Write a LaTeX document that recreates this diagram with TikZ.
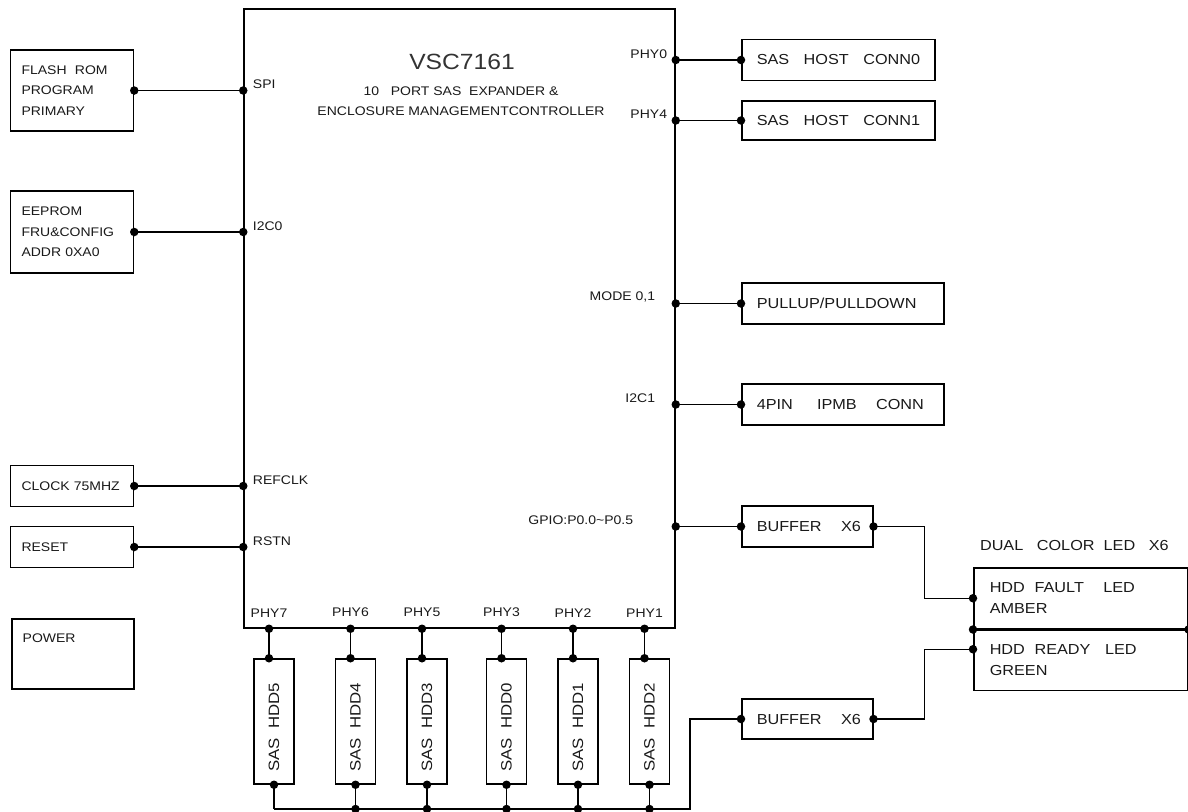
\documentclass[tikz,border=0pt]{standalone}
\usepackage{fontspec}
\setmainfont{Liberation Sans}[FakeStretch=1.12]
\usetikzlibrary{positioning,calc}

\newcommand{\pinfont}{\fontsize{12.5}{20.5}\selectfont}
\newcommand{\boxfont}{\fontsize{14.5}{21}\selectfont}
\newcommand{\chipfont}{\fontsize{22}{24}\selectfont}

\begin{document}
\begin{tikzpicture}[
  x=1pt, y=-1pt,
  font=\pinfont,
  text=black!90,
  line width=1.4pt,
  box/.style={draw, line width=1.5pt, inner sep=0pt},
  lbox/.style={box, text width=#1, inner xsep=11pt, align=left},
  rbox/.style={box, font=\boxfont, text width=#1, inner xsep=15pt, align=left,
    minimum height=41, anchor=west},
  jdot/.style={circle, fill=black, inner sep=0pt, minimum size=8.5pt},
  pinl/.style={anchor=south west, inner sep=0pt, xshift=9pt, yshift=1pt},
  pinr/.style={anchor=south east, inner sep=0pt, yshift=1pt},
]
  \useasboundingbox (0,0) rectangle (1188,811);

  % Expander chip
  \node[box, minimum width=431, minimum height=619] (chip) at (459.5,318.5) {};
  \node[font=\chipfont, text=black!80] (title) at (462,62) {VSC7161};
  \node[align=center, font=\fontsize{12.5}{20}\selectfont] (subtitle) at (461,101)
    {10~~~PORT~SAS~~EXPANDER~\&\\ENCLOSURE MANAGEMENTCONTROLLER};

  % Left side blocks
  \node[lbox=101pt, minimum height=81] (flash) at (72,90.5) {FLASH~~ROM\\PROGRAM\\PRIMARY};
  \node[lbox=101pt, minimum height=82] (eeprom) at (72,232) {EEPROM\\FRU\&CONFIG\\ADDR~0XA0};
  \node[lbox=101pt, minimum height=41] (clock) at (72,486) {CLOCK~75MHZ};
  \node[lbox=101pt, minimum height=41] (reset) at (72,547) {RESET};
  \node[box, minimum width=122, minimum height=70, anchor=north west] (power) at (11,618) {};
  \node[anchor=west, inner sep=0pt, xshift=11pt, yshift=-20pt] at (power.north west) {POWER};

  \foreach \n/\lbl in {flash/SPI, eeprom/I2C0, clock/REFCLK, reset/RSTN} {
    \draw (\n.east) node[jdot]{} -- (\n.east -| chip.west) node[jdot]{} node[pinl]{\lbl};
  }

  % Right side blocks
  \node[rbox=163pt] (conn0) at (741,60) {SAS~~~HOST~~~CONN0};
  \node[rbox=163pt, minimum height=39] (conn1) at (741,120.5) {SAS~~~HOST~~~CONN1};
  \node[rbox=172pt] (pull) at (741,303.5) {PULLUP/PULLDOWN};
  \node[rbox=172pt] (ipmb) at (741,404.5) {4PIN~~~~~IPMB~~~~CONN};
  \node[rbox=101pt] (bufa) at (741,526.5) {BUFFER~~~~X6};
  \node[rbox=101pt, minimum height=40] (bufb) at (741,719) {BUFFER~~~~X6};

  \foreach \n/\lbl/\dx in {conn0/PHY0/8, conn1/PHY4/8, pull/{MODE 0,1}/20,
      ipmb/I2C1/20, bufa/{GPIO:P0.0\textasciitilde P0.5}/42} {
    \draw (\n.west) node[jdot]{} -- (\n.west -| chip.east) node[jdot]{}
      node[pinr, xshift=-\dx pt]{\lbl};
  }

  % Dual colour LED
  \node[anchor=west, font=\boxfont] (ledlbl) at (976,546) {DUAL~~~COLOR~~LED~~~X6};
  \node[box, anchor=north west, minimum width=214, minimum height=61, text width=182pt,
    inner xsep=16pt, align=left, font=\boxfont] (fault) at (973,567)
    {HDD~~FAULT~~~~LED\\AMBER};
  \node[box, anchor=north west, minimum width=214, minimum height=60, text width=182pt,
    inner xsep=16pt, align=left, font=\boxfont] (ready) at (fault.south west)
    {HDD~~READY~~~LED\\GREEN};
  \node[jdot] at (fault.south west) {};
  \node[jdot] at (fault.south east) {};

  \draw (bufa.east) node[jdot]{} -- ++(51,0) |- (fault.west) node[jdot]{};
  \draw (bufb.east) node[jdot]{} -- ++(51,0) |- ([yshift=11pt]ready.west) node[jdot]{};

  % SAS drives
  \coordinate (busr) at (690,809);
  \foreach \n/\x/\phy/\hdd in {h5/274/7/5, h4/355.5/6/4, h3/427/5/3,
      h0/506.5/3/0, h1/578/2/1, h2/649.5/1/2} {
    \node[box, minimum width=40, minimum height=125] (\n) at (\x,721.5) {};
    \node[rotate=90, font=\fontsize{15}{17}\selectfont] at ([yshift=-6pt]\n.center) {SAS~~HDD\hdd};
    \coordinate (p\n) at ([xshift=-5pt]\n.north);
    \draw (p\n) node[jdot]{} -- (p\n |- chip.south) node[jdot]{}
      node[above=11pt, inner sep=0pt]{PHY\phy};
    \draw (\n.south) node[jdot]{} -- (\n.south |- busr);
  }
  \foreach \n in {h4, h3, h0, h1, h2} {
    \node[jdot] at (\n.south |- busr) {};
  }
  \draw (h5.south |- busr) -- (busr) |- (bufb.west) node[jdot]{};
\end{tikzpicture}
\end{document}
